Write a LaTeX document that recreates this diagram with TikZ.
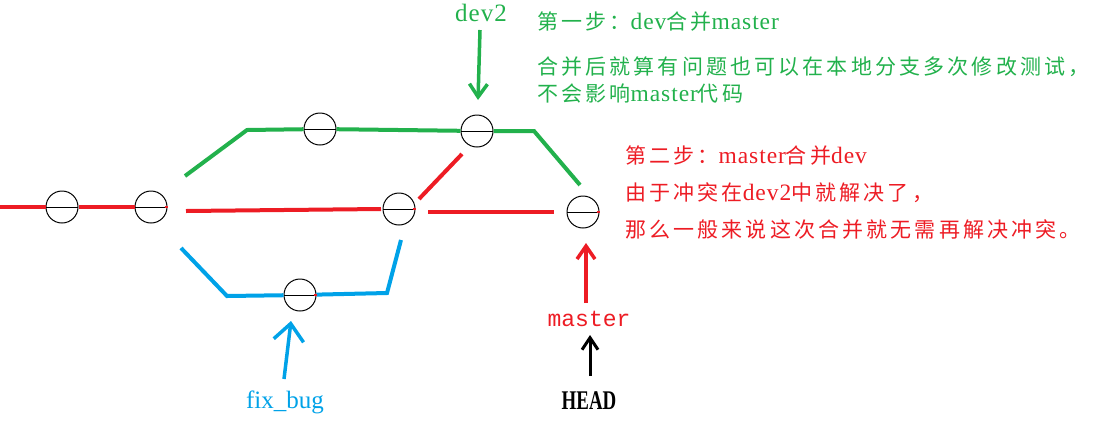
\documentclass[tikz,border=0pt]{standalone}
\usepackage{fontspec}
\setmainfont{Liberation Serif}
\newfontfamily\cjk[LetterSpace=15]{Noto Sans CJK SC}
\newfontfamily\latsp[LetterSpace=4]{Liberation Serif}
\newfontfamily\monof{Liberation Mono}
\usetikzlibrary{arrows.meta}
\definecolor{pgreen}{RGB}{34,177,76}
\definecolor{pred}{RGB}{237,28,36}
\definecolor{pblue}{RGB}{0,162,232}
\newcommand\zh[1]{{\cjk\fontsize{21}{25}\selectfont #1}}
\newcommand\la[1]{{\latsp\fontsize{23.5}{25}\selectfont #1}}
\begin{document}
\begin{tikzpicture}[x=1pt,y=-1pt,
  commit/.style={circle, draw=black, line width=1pt, fill=white, minimum size=32pt, inner sep=0pt,
    path picture={\draw[line width=1pt] (path picture bounding box.west) -- (path picture bounding box.east);}},
  branch/.style={line width=4pt},
  redbr/.style={branch, draw=pred},
  greenbr/.style={branch, draw=pgreen},
  bluebr/.style={branch, draw=pblue},
  tick/.style={draw=pred, line width=2pt},
  note/.style={anchor=west, inner sep=0pt},
  ptr/.style={line width=3.5pt, -{Straight Barb[length=13pt,width=18pt]}},
]
\useasboundingbox (0,0) rectangle (1097,424);
% commits
\node[commit] (c1) at (62,207) {};
\node[commit] (c2) at (151,207) {};
\node[commit] (c3) at (320,129) {};
\node[commit] (c4) at (477,131) {};
\node[commit] (c5) at (399,209) {};
\node[commit] (c6) at (583,212) {};
\node[commit] (c7) at (300,295) {};
% coordinates
\coordinate (r0) at (0,207);
\coordinate (m0) at (186,211);
\coordinate (m1) at (381,209);
\coordinate (m2) at (428,212);
\coordinate (m3) at (554,212);
\coordinate (d0) at (419,199);
\coordinate (d1) at (462,154);
\coordinate (g0) at (185,176);
\coordinate (g1) at (247,130);
\coordinate (g2) at (534,131);
\coordinate (g3) at (580,185);
\coordinate (b0) at (181,248);
\coordinate (b1) at (227,296);
\coordinate (b2) at (387,293);
\coordinate (b3) at (401,240);
% branches
\draw[redbr] (r0) -- (c1);
\draw[redbr] (c1) -- (c2);
\draw[redbr] (m0) -- (m1);
\draw[redbr] (m2) -- (m3);
\draw[redbr] (d0) -- (d1);
\draw[greenbr, line join=miter] (g0) -- (g1) -- (c3);
\draw[greenbr] (c3) -- (c4);
\draw[greenbr, line join=miter] (c4) -- (g2) -- (g3);
\draw[bluebr, line join=miter] (b0) -- (b1) -- (c7);
\draw[bluebr, line join=miter] (c7) -- (b2) -- (b3);
% red ticks at right end of diameters
\foreach \c in {c2,c5,c6,c7} {\draw[tick] ([xshift=-3pt]\c.east) -- (\c.east);}
% labels
\node[text=pgreen, inner sep=0pt, font=\latsp\fontsize{25}{27}\selectfont] (dev2) at (481,13) {dev2};
\coordinate (ga0) at (480,30);
\coordinate (ga1) at (478,100);
\draw[ptr, pgreen] (ga0) -- (ga1);

\node[text=pblue, inner sep=0pt, font=\fontsize{25}{27}\selectfont] (fix) at (285,402) {fix\_bug};
\coordinate (ba0) at (284,379);
\coordinate (ba1) at (291,321);
\draw[line width=3.5pt, pblue, -{Straight Barb[length=17pt,width=30pt]}] (ba0) -- (ba1);

\node[text=pred, inner sep=0pt, font=\monof\fontsize{23}{25}\selectfont] (master) at (589,319) {master};
\coordinate (ra0) at (586,303);
\coordinate (ra1) at (586,243);
\draw[ptr, pred] (ra0) -- (ra1);

\node[text=black, inner sep=0pt, font=\bfseries\fontsize{27}{29}\selectfont] (head) at (589,401) {\scalebox{0.7}[1]{HEAD}};
\coordinate (ha0) at (590,376);
\coordinate (ha1) at (590,335);
\draw[ptr, black, line width=3pt, -{Straight Barb[length=12pt,width=16pt]}] (ha0) -- (ha1);

% notes
\node[note, text=pgreen] (n1) at (537,22) {\zh{第一步：}\la{dev}\zh{合并}\la{master}};
\node[note, text=pgreen] (n2) at (537,67) {\zh{合并后就算有问题也可以在本地分支多次修改测试，}};
\node[note, text=pgreen] (n3) at (537,94) {\zh{不会影响}\la{master}\zh{代码}};
\node[note, text=pred] (n4) at (625,156) {\zh{第二步：}\la{master}\zh{合并}\la{dev}};
\node[note, text=pred] (n5) at (625,193) {\zh{由于冲突在}\la{dev2}\zh{中就解决了，}};
\node[note, text=pred] (n6) at (625,230) {\zh{那么一般来说这次合并就无需再解决冲突。}};
\end{tikzpicture}
\end{document}
